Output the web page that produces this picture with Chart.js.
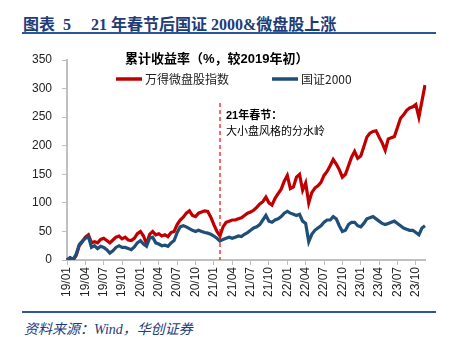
<!DOCTYPE html>
<html lang="zh">

<head>
    <meta charset="UTF-8">
    <title>图表 5</title>
    <style>
        body { margin: 0; width: 457px; height: 337px; background: #fff; position: relative; overflow: hidden; }
        .title { position: absolute; left: 23px; top: 11px; font: bold 16px "Liberation Serif", "Noto Sans CJK SC"; color: #1F3C78; white-space: pre; }
        .rule { position: absolute; left: 22px; width: 414px; height: 2px; background: #2B5797; }
        .src { position: absolute; left: 24px; top: 318px; font: italic 14px "Liberation Serif", "Noto Sans CJK SC"; color: #1F3C78; }
        #myChart { position: absolute; left: 0; top: 36px; }
    </style>
</head>

<body>
    <div class="title">图表  5　 21 年春节后国证 2000&amp;微盘股上涨</div>
    <div class="rule" style="top:32px"></div>
    <canvas id="myChart" width="457" height="274"></canvas>
    <div class="rule" style="top:311px"></div>
    <div class="src">资料来源：Wind，华创证券</div>

    <script src="https://cdn.jsdelivr.net/npm/chart.js"></script>
    <script>
        // 반월 단위 데이터 (2019-01 ~ 2023-11 중순)
        const tickLabels = ['19/01', '19/04', '19/07', '19/10', '20/01', '20/04', '20/07', '20/10',
            '21/01', '21/04', '21/07', '21/10', '22/01', '22/04', '22/07', '22/10',
            '23/01', '23/04', '23/07', '23/10'];

        const microCap = [0, 4, 0, 8, 25, 32, 40, 44, 30, 32, 30, 36, 38, 34, 30, 35, 40, 42, 37, 40,
            35, 34, 38, 46, 50, 42, 28, 45, 50, 44, 46, 42, 44, 41, 48, 50, 62, 70, 75, 82,
            86, 78, 76, 82, 84, 86, 85, 75, 62, 50, 42, 58, 66, 68, 70, 70, 72, 74, 78, 82,
            84, 87, 92, 98, 102, 110, 100, 96, 108, 116, 124, 138, 148, 125, 128, 145, 150, 122, 135, 100,
            118, 126, 130, 136, 148, 155, 165, 176, 168, 158, 145, 150, 165, 180, 190, 178, 182, 198, 215, 222,
            225, 226, 215, 205, 192, 212, 214, 216, 232, 248, 254, 262, 266, 268, 272, 250, 278, 306];

        const gz2000 = [0, 4, 1, 10, 27, 33, 38, 41, 22, 25, 20, 24, 22, 18, 12, 16, 22, 25, 22, 22,
            20, 18, 23, 30, 34, 28, 24, 38, 40, 30, 28, 25, 26, 24, 30, 34, 48, 58, 60, 58,
            55, 52, 50, 52, 50, 48, 47, 45, 42, 38, 33, 36, 38, 40, 38, 40, 42, 41, 45, 48,
            52, 56, 58, 62, 70, 78, 68, 66, 70, 72, 76, 82, 85, 82, 80, 78, 80, 68, 64, 32,
            45, 52, 56, 60, 66, 70, 70, 76, 72, 60, 50, 52, 62, 66, 66, 60, 58, 64, 72, 74,
            76, 72, 68, 64, 62, 64, 66, 68, 64, 60, 56, 54, 52, 52, 48, 44, 56, 60];

        const seriesNames = ['万得微盘股指数', '国证2000'];
        const springIdx = 50;   // 21년 춘절 위치

        // 카테고리: 반월 (a=상순, b=하순)
        let v_labels = [];
        for (let i = 0; i < microCap.length; i++) {
            let y = 19 + Math.floor(i / 24);
            let mo = Math.floor((i % 24) / 2) + 1;
            v_labels.push(y + '/' + String(mo).padStart(2, '0') + (i % 2 ? 'b' : 'a'));
        }

        const overlay = {
            id: 'overlay',
            afterDatasetsDraw(chart) {
                const c = chart.ctx;
                const area = chart.chartArea;
                const xs = chart.scales.x;
                c.save();
                // 춘절 점선
                let px = xs.getPixelForValue(springIdx);
                c.strokeStyle = '#FF0000';
                c.lineWidth = 1.2;
                c.setLineDash([4, 3]);
                c.beginPath();
                c.moveTo(px, 67);
                c.lineTo(px, area.bottom);
                c.stroke();
                c.setLineDash([]);

                c.fillStyle = '#000';
                c.textBaseline = 'middle';
                c.font = 'bold 11px "Liberation Sans", "Noto Sans CJK SC"';
                c.fillText('21年春节：', px + 6, 80);
                c.font = '11px "Noto Sans CJK SC"';
                c.fillText('大小盘风格的分水岭', px + 6, 95);

                // 제목
                c.font = 'bold 13px "Liberation Sans", "Noto Sans CJK SC"';
                c.fillText('累计收益率（%，较2019年初）', 125, 23);

                // 범례
                const items = [[116, '#C00000', seriesNames[0]], [272, '#1F4E79', seriesNames[1]]];
                c.font = '12px "Noto Sans CJK SC", "Liberation Sans"';
                c.lineWidth = 3.5;
                items.forEach(it => {
                    c.strokeStyle = it[1];
                    c.beginPath();
                    c.moveTo(it[0], 43);
                    c.lineTo(it[0] + 26, 43);
                    c.stroke();
                    c.fillStyle = '#222';
                    c.fillText(it[2], it[0] + 29, 43);
                });
                c.restore();
            }
        };

        let ctx = document.getElementById('myChart');
        new Chart(ctx, {
            type: 'line',
            data: {
                labels: v_labels,
                datasets: [{
                    label: seriesNames[0],
                    data: microCap,
                    borderColor: '#C00000',
                    borderWidth: 3.2,
                    pointRadius: 0,
                    order: 1
                }, {
                    label: seriesNames[1],
                    data: gz2000,
                    borderColor: '#1F4E79',
                    borderWidth: 3.2,
                    pointRadius: 0,
                    order: 0
                }]
            },
            options: {
                responsive: false,
                animation: false,
                layout: { padding: { top: 24, right: 32, left: 0, bottom: 0 } },
                plugins: { legend: { display: false }, tooltip: { enabled: false } },
                elements: { line: { tension: 0 } },
                scales: {
                    x: {
                        afterFit(s) { s.height = 50; },
                        border: { color: '#BFBFBF', width: 2 },
                        grid: { drawOnChartArea: false, color: '#BFBFBF', tickLength: 5, lineWidth: 1 },
                        ticks: {
                            autoSkip: false,
                            minRotation: 90,
                            maxRotation: 90,
                            padding: 2,
                            color: '#222',
                            font: { family: '"Liberation Sans"', size: 12 },
                            callback: (v, i) => (i % 6 === 0 ? tickLabels[i / 6] : null)
                        }
                    },
                    y: {
                        min: 0,
                        max: 350,
                        afterFit(s) { s.width = 67; },
                        border: { color: '#BFBFBF', width: 2 },
                        grid: { drawOnChartArea: false, color: '#BFBFBF', tickLength: 5 },
                        ticks: {
                            stepSize: 50,
                            padding: 10,
                            color: '#222',
                            font: { family: '"Liberation Sans"', size: 12 }
                        }
                    }
                }
            },
            plugins: [overlay]
        });
    </script>
</body>

</html>
